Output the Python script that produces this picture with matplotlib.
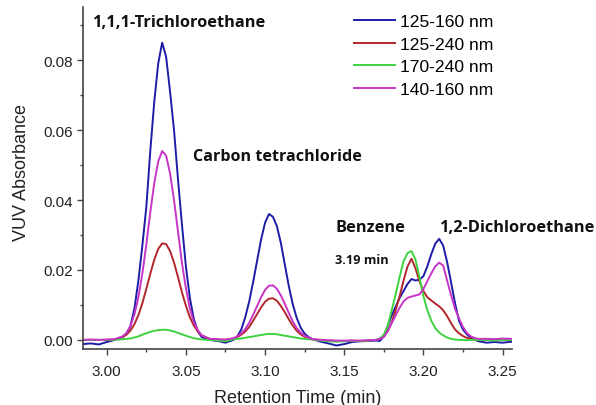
import matplotlib
matplotlib.use('Agg')
import matplotlib.pyplot as plt
from matplotlib.ticker import MultipleLocator

# retention time grid (min)
time = [
    2.985, 2.990, 2.995, 3.000, 3.005,
    3.010, 3.0125, 3.015, 3.0175, 3.020, 3.0225, 3.025, 3.0275, 3.030, 3.0325, 3.035,
    3.0375, 3.040, 3.0425, 3.045, 3.0475, 3.050, 3.0525, 3.055, 3.0575, 3.060,
    3.065, 3.070, 3.075,
    3.080, 3.0825, 3.085, 3.0875, 3.090, 3.0925, 3.095, 3.0975, 3.100, 3.1025, 3.105,
    3.1075, 3.110, 3.1125, 3.115, 3.1175, 3.120, 3.1225, 3.125, 3.1275, 3.130,
    3.135, 3.140, 3.145, 3.150, 3.155, 3.160, 3.165,
    3.170, 3.1725, 3.175, 3.1775, 3.180, 3.1825, 3.185, 3.1875, 3.190, 3.1925, 3.195,
    3.1975, 3.200, 3.2025, 3.205, 3.2075, 3.210, 3.2125, 3.215, 3.2175, 3.220, 3.2225,
    3.225, 3.2275, 3.230, 3.2325, 3.235,
    3.240, 3.245, 3.250, 3.256,
]

abs_125_160 = [
    -0.0012, -0.0010, -0.0013, -0.0006, 0.0000,
    0.0008, 0.0018, 0.0040, 0.0090, 0.0170, 0.0270, 0.0380, 0.0540, 0.0680, 0.0790, 0.0850,
    0.0810, 0.0710, 0.0600, 0.0460, 0.0330, 0.0210, 0.0120, 0.0060, 0.0025, 0.0008,
    0.0000, -0.0003, -0.0008,
    0.0000, 0.0010, 0.0030, 0.0065, 0.0110, 0.0166, 0.0227, 0.0287, 0.0335, 0.0360, 0.0352,
    0.0325, 0.0277, 0.0215, 0.0154, 0.0102, 0.0063, 0.0035, 0.0018, 0.0008, 0.0002,
    -0.0005, -0.0010, -0.0016, -0.0012, -0.0006, -0.0004, -0.0003,
    -0.0002, -0.0003, 0.0010, 0.0040, 0.0070, 0.0095, 0.0120, 0.0140, 0.0160, 0.0174, 0.0170,
    0.0172, 0.0182, 0.0210, 0.0245, 0.0275, 0.0289, 0.0270, 0.0223, 0.0165, 0.0105, 0.0055,
    0.0030, 0.0016, 0.0006, 0.0000, -0.0004,
    -0.0008, -0.0006, -0.0008, -0.0005,
]

abs_125_240 = [
    0.0000, 0.0000, 0.0000, 0.0000, 0.0001,
    0.0008, 0.0015, 0.0027, 0.0045, 0.0071, 0.0105, 0.0146, 0.0189, 0.0229, 0.0260, 0.0276,
    0.0274, 0.0254, 0.0221, 0.0180, 0.0136, 0.0098, 0.0065, 0.0041, 0.0024, 0.0013,
    0.0003, 0.0001, 0.0000,
    0.0004, 0.0008, 0.0015, 0.0024, 0.0037, 0.0055, 0.0074, 0.0093, 0.0109, 0.0118, 0.0119,
    0.0112, 0.0097, 0.0079, 0.0059, 0.0041, 0.0026, 0.0016, 0.0009, 0.0005, 0.0002,
    0.0000, -0.0002, -0.0003, -0.0003, -0.0002, -0.0003, -0.0002,
    0.0000, 0.0003, 0.0010, 0.0025, 0.0050, 0.0085, 0.0125, 0.0170, 0.0210, 0.0232, 0.0205,
    0.0168, 0.0140, 0.0122, 0.0113, 0.0104, 0.0096, 0.0085, 0.0068, 0.0048, 0.0030, 0.0019,
    0.0011, 0.0006, 0.0003, 0.0001, 0.0000,
    0.0000, 0.0001, 0.0000, 0.0001,
]

abs_170_240 = [
    0.0000, 0.0000, 0.0000, 0.0000, 0.0000,
    0.0002, 0.0003, 0.0004, 0.0007, 0.0010, 0.0015, 0.0019, 0.0023, 0.0026, 0.0028, 0.0029,
    0.0029, 0.0027, 0.0024, 0.0020, 0.0016, 0.0012, 0.0008, 0.0005, 0.0003, 0.0001,
    0.0000, -0.0002, -0.0004,
    0.0002, 0.0003, 0.0004, 0.0006, 0.0008, 0.0010, 0.0012, 0.0014, 0.0016, 0.0017, 0.0017,
    0.0016, 0.0014, 0.0012, 0.0010, 0.0008, 0.0006, 0.0004, 0.0003, 0.0002, 0.0001,
    -0.0002, -0.0004, -0.0005, -0.0004, -0.0003, -0.0003, -0.0002,
    0.0000, 0.0004, 0.0015, 0.0040, 0.0085, 0.0130, 0.0180, 0.0225, 0.0248, 0.0254, 0.0230,
    0.0180, 0.0126, 0.0085, 0.0055, 0.0034, 0.0021, 0.0013, 0.0007, 0.0003, 0.0001, 0.0000,
    0.0000, -0.0001, 0.0000, 0.0000, 0.0000,
    0.0000, -0.0002, 0.0000, 0.0000,
]

abs_140_160 = [
    0.0000, 0.0001, 0.0000, 0.0001, 0.0002,
    0.0010, 0.0020, 0.0040, 0.0073, 0.0123, 0.0190, 0.0273, 0.0364, 0.0448, 0.0510, 0.0540,
    0.0527, 0.0476, 0.0400, 0.0310, 0.0220, 0.0148, 0.0090, 0.0051, 0.0028, 0.0013,
    0.0003, 0.0002, 0.0001,
    0.0005, 0.0010, 0.0019, 0.0031, 0.0049, 0.0072, 0.0097, 0.0122, 0.0143, 0.0155, 0.0156,
    0.0146, 0.0127, 0.0103, 0.0077, 0.0053, 0.0034, 0.0021, 0.0012, 0.0006, 0.0002,
    0.0000, -0.0001, -0.0002, -0.0002, -0.0002, -0.0002, -0.0001,
    0.0000, 0.0003, 0.0008, 0.0025, 0.0048, 0.0070, 0.0092, 0.0110, 0.0120, 0.0124, 0.0127,
    0.0130, 0.0145, 0.0168, 0.0190, 0.0210, 0.0221, 0.0213, 0.0170, 0.0128, 0.0089, 0.0062,
    0.0037, 0.0020, 0.0010, 0.0005, 0.0003,
    0.0003, 0.0002, 0.0004, 0.0003,
]

labels = ['125-160 nm', '125-240 nm', '170-240 nm', '140-160 nm']
colors = ['#1c1ca8', '#b3262b', '#3fd23f', '#c735c7']

plt.rcParams['font.family'] = ['Liberation Sans', 'DejaVu Sans']

fig = plt.figure(figsize=(5.96, 4.06), dpi=100)
ax = fig.add_axes([83 / 596, 56 / 406, 429 / 596, 342 / 406])

for series, lab, col in zip([abs_125_160, abs_125_240, abs_170_240, abs_140_160], labels, colors):
    ax.plot(time, series, color=col, lw=1.4, label=lab)

ax.set_xlim(2.985, 3.256)
ax.set_ylim(-0.0026, 0.0952)
ax.xaxis.set_major_locator(MultipleLocator(0.05))
ax.xaxis.set_minor_locator(MultipleLocator(0.025))
ax.yaxis.set_major_locator(MultipleLocator(0.02))
ax.yaxis.set_minor_locator(MultipleLocator(0.01))
ax.xaxis.set_major_formatter(plt.FormatStrFormatter('%.2f'))
ax.yaxis.set_major_formatter(plt.FormatStrFormatter('%.2f'))

for side in ['top', 'right']:
    ax.spines[side].set_visible(False)
for side in ['left', 'bottom']:
    ax.spines[side].set_color('#444444')
    ax.spines[side].set_linewidth(1.2)
ax.tick_params(which='major', direction='out', length=4, width=1, color='#444444',
               labelsize=11, labelcolor='#222222')
ax.tick_params(axis='x', which='major', pad=7)
ax.tick_params(which='minor', direction='out', length=2.5, width=1, color='#444444')

ax.set_xlabel('Retention Time (min)', fontsize=13, color='#222222', labelpad=8)
ax.set_ylabel('VUV Absorbance', fontsize=13, color='#222222', labelpad=9)
ax.yaxis.label.set_y(0.52)

bold = dict(fontweight='bold', family=['Open Sans', 'DejaVu Sans'], color='#111111', va='center')
ax.text(2.9911, 0.0909, '1,1,1-Trichloroethane', fontsize=11.8, **bold)
ax.text(3.0544, 0.0526, 'Carbon tetrachloride', fontsize=11.6, **bold)
ax.text(3.1443, 0.0323, 'Benzene', fontsize=11.8, **bold)
ax.text(3.2108, 0.0323, '1,2-Dichloroethane', fontsize=11.8, **bold)
ax.text(3.1443, 0.0229, '3.19 min', fontsize=9.2, **bold)

ax.legend(loc='upper left', bbox_to_anchor=(354 / 596, 1 - 15 / 406),
          bbox_transform=fig.transFigure, frameon=False, fontsize=12.6,
          handlelength=2.35, handletextpad=0.28, borderpad=0, borderaxespad=0,
          labelspacing=0.42)

fig.savefig('out.png', dpi=100)
